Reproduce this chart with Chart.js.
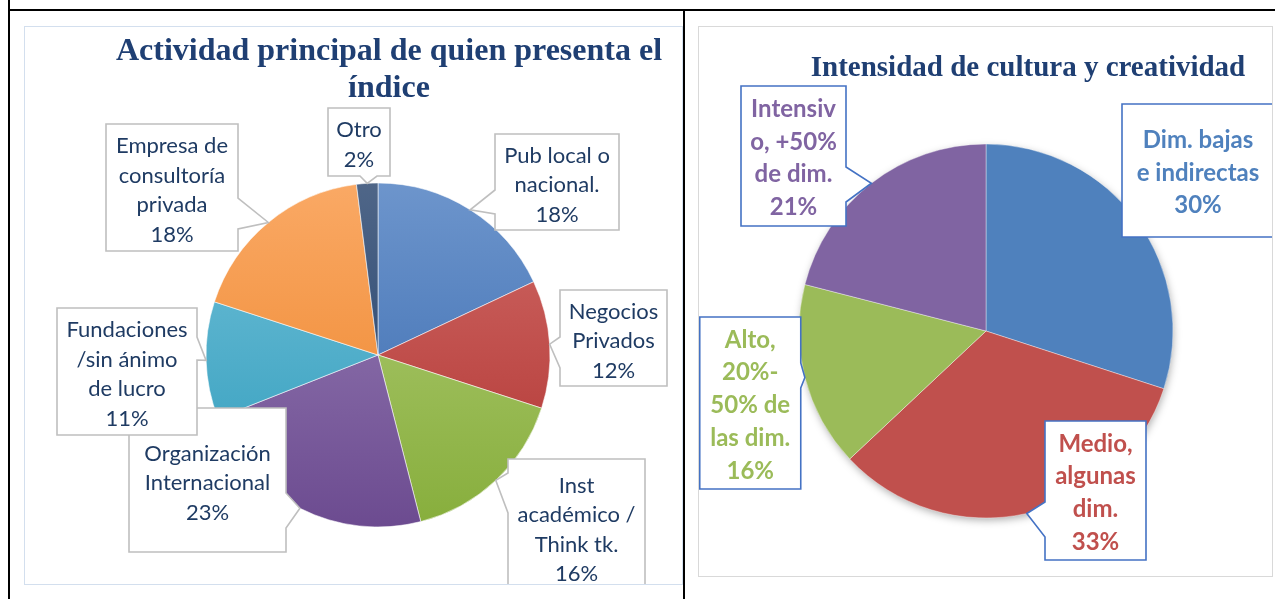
<!DOCTYPE html>
<html><head><meta charset="utf-8">
<script src="https://cdn.jsdelivr.net/npm/chart.js@4"></script>
<style>
html,body{margin:0;padding:0;background:#fff;width:1275px;height:599px;overflow:hidden;position:relative}
.line{position:absolute;background:#000}
.frame{position:absolute;box-sizing:border-box;background:#fff}
canvas{display:block}
</style></head><body>
<div class="frame" style="left:24px;top:26px;width:659px;height:559px;border:1px solid #d3dfee"><canvas id="c1" width="657" height="557"></canvas></div>
<div class="frame" style="left:698px;top:26px;width:575px;height:551px;border:1px solid #d9d9d9"><canvas id="c2" width="573" height="549"></canvas></div>
<div class="line" style="left:8px;top:9px;width:1267px;height:2px"></div>
<div class="line" style="left:8px;top:0;width:2px;height:599px"></div>
<div class="line" style="left:683px;top:9px;width:2px;height:590px"></div>
<script>
// ---------- data ----------
const leftTitle = ['Actividad principal de quien presenta el', 'índice'];
const leftCategories = [
  ['Pub local o', 'nacional.'],
  ['Negocios', 'Privados'],
  ['Inst', 'académico /', 'Think tk.'],
  ['Organización', 'Internacional'],
  ['Fundaciones', '/sin ánimo', 'de lucro'],
  ['Empresa de', 'consultoría', 'privada'],
  ['Otro']
];
const leftValues = [18, 12, 16, 23, 11, 18, 2];

const rightTitle = ['Intensidad de cultura y creatividad'];
const rightCategories = [
  ['Dim. bajas', 'e indirectas'],
  ['Medio,', 'algunas', 'dim.'],
  ['Alto,', '20%-', '50% de', 'las dim.'],
  ['Intensiv', 'o, +50%', 'de dim.']
];
const rightValues = [30, 33, 16, 21];

// ---------- styles ----------
const leftGradients = [
  ['#6d95cc', '#3567ad'],
  ['#d06a67', '#b03330'],
  ['#b2cd78', '#87ae3c'],
  ['#9a82b8', '#6c4b90'],
  ['#72c0d8', '#2f9cbc'],
  ['#faa965', '#ec8226'],
  ['#4f6688', '#1c3c68']
];
const rightColors = ['#4f81bd', '#c0504d', '#9bbb59', '#8064a2'];

// ---------- label layout (canvas coords) ----------
const leftBoxes = [
  {x: 470, y: 107, w: 124, h: 96, side: 'left', a: 163, b: 187},
  {x: 535, y: 263, w: 107, h: 96, side: 'left', a: 310, b: 341},
  {x: 483, y: 432, w: 137, h: 136, side: 'left', a: 446, b: 486},
  {x: 104, y: 381, w: 157, h: 144, side: 'right', a: 466, b: 501},
  {x: 32, y: 281, w: 140, h: 127, side: 'right', a: 310, b: 333},
  {x: 81, y: 97, w: 132, h: 127, side: 'right', a: 171, b: 202},
  {x: 303, y: 81, w: 62, h: 68, side: 'bottom', a: 335, b: 352}
];
const rightBoxes = [
  {x: 423, y: 77, w: 152, h: 133, side: 'none'},
  {x: 346, y: 394, w: 101, h: 139, side: 'left', a: 475, b: 510},
  {x: 0.75, y: 290, w: 101, h: 172, side: 'right', a: 336, b: 361},
  {x: 42, y: 59, w: 105, h: 140, side: 'right', a: 140, b: 175}
];

function pct(v, arr) {
  const t = arr.reduce((s, x) => s + x, 0);
  return Math.round(v / t * 100) + '%';
}

const calloutPlugin = {
  id: 'callouts',
  beforeDatasetsDraw(chart, args, o) {
    if (!o.shadow) return;
    const meta = chart.getDatasetMeta(0);
    const p = meta.data[0].getProps(['x', 'y', 'outerRadius'], true);
    const ctx = chart.ctx;
    ctx.save();
    ctx.shadowColor = 'rgba(0,0,0,0.35)';
    ctx.shadowBlur = 9;
    ctx.shadowOffsetX = 1;
    ctx.shadowOffsetY = 3;
    ctx.fillStyle = '#ffffff';
    ctx.beginPath();
    ctx.arc(p.x, p.y, p.outerRadius - 1, 0, Math.PI * 2);
    ctx.fill();
    ctx.restore();
  },
  afterDraw(chart, args, o) {
    const ctx = chart.ctx;
    const meta = chart.getDatasetMeta(0);
    const vals = chart.data.datasets[0].data;
    const labels = chart.data.labels;
    ctx.save();
    // title
    ctx.fillStyle = o.titleColor;
    ctx.font = o.titleFont;
    ctx.textAlign = 'center';
    ctx.textBaseline = 'alphabetic';
    o.title.forEach((t, i) => ctx.fillText(t, o.titleX, o.titleY + i * o.titleLH));
    // callouts
    o.boxes.forEach((b, i) => {
      const p = meta.data[i].getProps(['x', 'y', 'startAngle', 'endAngle', 'outerRadius'], true);
      const mid = (p.startAngle + p.endAngle) / 2;
      const tx = p.x + Math.cos(mid) * p.outerRadius;
      const ty = p.y + Math.sin(mid) * p.outerRadius;
      const {x, y, w, h} = b;
      ctx.beginPath();
      ctx.moveTo(x, y);
      if (b.side === 'top') { ctx.lineTo(b.a, y); ctx.lineTo(tx, ty); ctx.lineTo(b.b, y); }
      ctx.lineTo(x + w, y);
      if (b.side === 'right') { ctx.lineTo(x + w, b.a); ctx.lineTo(tx, ty); ctx.lineTo(x + w, b.b); }
      ctx.lineTo(x + w, y + h);
      if (b.side === 'bottom') { ctx.lineTo(b.b, y + h); ctx.lineTo(tx, ty); ctx.lineTo(b.a, y + h); }
      ctx.lineTo(x, y + h);
      if (b.side === 'left') { ctx.lineTo(x, b.b); ctx.lineTo(tx, ty); ctx.lineTo(x, b.a); }
      ctx.closePath();
      ctx.fillStyle = '#ffffff';
      ctx.fill();
      ctx.lineWidth = o.boxLineWidth;
      ctx.strokeStyle = o.boxColor;
      ctx.lineJoin = 'miter';
      ctx.stroke();
      // text
      const lines = labels[i].concat([pct(vals[i], vals)]);
      const lh = o.lineHeight;
      const cy = y + h / 2 + o.blockShift;
      const first = cy - (lines.length - 1) * lh / 2;
      ctx.font = o.labelFont;
      ctx.fillStyle = o.textColors ? o.textColors[i] : o.textColor;
      ctx.textAlign = 'center';
      ctx.textBaseline = 'alphabetic';
      lines.forEach((t, k) => ctx.fillText(t, x + w / 2, first + k * lh + o.capHalf));
    });
    ctx.restore();
  }
};

function gradientFill(c) {
  const pair = leftGradients[c.dataIndex];
  const area = c.chart.chartArea;
  if (!area) return pair[0];
  const g = c.chart.ctx.createLinearGradient(0, area.top, 0, area.bottom);
  g.addColorStop(0, pair[0]);
  g.addColorStop(1, pair[1]);
  return g;
}

new Chart(document.getElementById('c1'), {
  type: 'pie',
  data: {
    labels: leftCategories,
    datasets: [{
      data: leftValues,
      backgroundColor: gradientFill,
      borderColor: 'rgba(255,255,255,0.55)',
      borderWidth: 1,
      radius: 172
    }]
  },
  options: {
    responsive: false,
    animation: false,
    events: [],
    layout: {padding: {left: 181, right: 132, top: 156, bottom: 57}},
    plugins: {
      legend: {display: false},
      tooltip: {enabled: false},
      title: {display: false},
      callouts: {
        title: leftTitle, titleX: 364, titleY: 33, titleLH: 37,
        titleFont: 'bold 32px "Liberation Serif", "Times New Roman", serif',
        titleColor: '#1f3f73',
        boxes: leftBoxes, boxColor: '#bfbfbf', boxLineWidth: 1.6,
        labelFont: '22px Lato, "Open Sans", sans-serif',
        textColor: '#1f3b63', lineHeight: 29.5, blockShift: 2, capHalf: 8
      }
    }
  },
  plugins: [calloutPlugin]
});

new Chart(document.getElementById('c2'), {
  type: 'pie',
  data: {
    labels: rightCategories,
    datasets: [{
      data: rightValues,
      backgroundColor: rightColors,
      borderColor: 'rgba(255,255,255,0.5)',
      borderWidth: 0.75,
      radius: 187
    }]
  },
  options: {
    responsive: false,
    animation: false,
    events: [],
    layout: {padding: {left: 100, right: 99, top: 117, bottom: 58}},
    plugins: {
      legend: {display: false},
      tooltip: {enabled: false},
      title: {display: false},
      callouts: {
        shadow: true,
        title: rightTitle, titleX: 329, titleY: 49, titleLH: 36,
        titleFont: 'bold 29px "Liberation Serif", "Times New Roman", serif',
        titleColor: '#1f3f73',
        boxes: rightBoxes, boxColor: '#4472c4', boxLineWidth: 1.6,
        labelFont: 'bold 24px Lato, "Open Sans", sans-serif',
        textColors: rightColors, lineHeight: 32.7, blockShift: 1.5, capHalf: 8.6
      }
    }
  },
  plugins: [calloutPlugin]
});
</script>
</body></html>
